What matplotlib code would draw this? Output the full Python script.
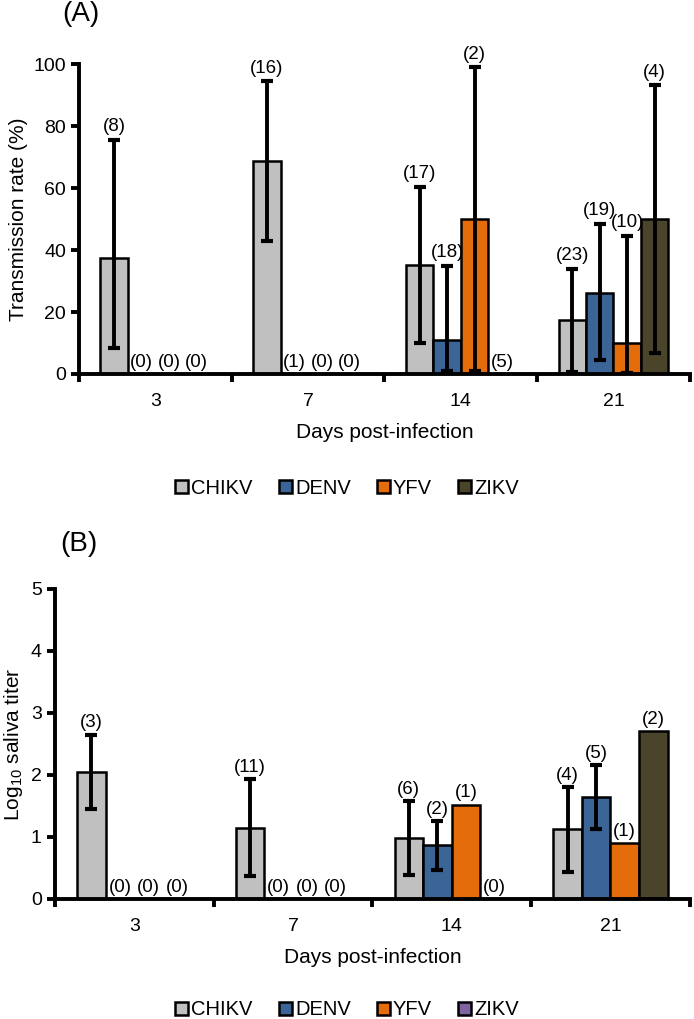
import matplotlib.pyplot as plt
from matplotlib.patches import Patch

plt.rcParams['font.family'] = ['Liberation Sans', 'DejaVu Sans']

# Data
days = ['3', '7', '14', '21']
viruses = ['CHIKV', 'DENV', 'YFV', 'ZIKV']
colors = ['#C0C0C0', '#3B6497', '#E46C0A', '#4A452A']

# Panel A: transmission rate (%)
rate = {
    'CHIKV': [37.5, 68.75, 35.3, 17.4],
    'DENV': [0, 0, 11.1, 26.3],
    'YFV': [0, 0, 50.0, 10.0],
    'ZIKV': [0, 0, 0, 50.0],
}
rate_lo = {
    'CHIKV': [8.5, 43.0, 10.0, 0.5],
    'DENV': [None, None, 1.0, 4.5],
    'YFV': [None, None, 1.0, 0.3],
    'ZIKV': [None, None, None, 6.8],
}
rate_hi = {
    'CHIKV': [75.5, 94.5, 60.5, 34.0],
    'DENV': [None, None, 35.0, 48.5],
    'YFV': [None, None, 99.0, 44.5],
    'ZIKV': [None, None, None, 93.2],
}
n_a = {
    'CHIKV': [8, 16, 17, 23],
    'DENV': [0, 1, 18, 19],
    'YFV': [0, 0, 2, 10],
    'ZIKV': [0, 0, 5, 4],
}

# Panel B: log10 saliva titer
titer = {
    'CHIKV': [2.05, 1.15, 0.98, 1.12],
    'DENV': [0, 0, 0.86, 1.64],
    'YFV': [0, 0, 1.52, 0.90],
    'ZIKV': [0, 0, 0, 2.70],
}
titer_lo = {
    'CHIKV': [1.45, 0.37, 0.38, 0.43],
    'DENV': [None, None, 0.47, 1.12],
    'YFV': [None, None, None, None],
    'ZIKV': [None, None, None, None],
}
titer_hi = {
    'CHIKV': [2.65, 1.93, 1.58, 1.80],
    'DENV': [None, None, 1.25, 2.16],
    'YFV': [None, None, None, None],
    'ZIKV': [None, None, None, None],
}
n_b = {
    'CHIKV': [3, 11, 6, 4],
    'DENV': [0, 0, 2, 5],
    'YFV': [0, 0, 1, 1],
    'ZIKV': [0, 0, 0, 2],
}

fig = plt.figure(figsize=(6.94, 10.19), dpi=100)
width = 0.18


def draw_panel(ax, vals, lo, hi, counts, ymax, yticks, label_pad, zero_y):
    for j, v in enumerate(viruses):
        xs = [i + (j - 1.5) * width for i in range(len(days))]
        ax.bar(xs, vals[v], width=width, color=colors[j], edgecolor='black',
               linewidth=1.8, zorder=2)
        for i, x in enumerate(xs):
            top = vals[v][i]
            if lo[v][i] is not None:
                ax.errorbar(x, vals[v][i],
                            yerr=[[vals[v][i] - lo[v][i]], [hi[v][i] - vals[v][i]]],
                            fmt='none', ecolor='black', elinewidth=2.8,
                            capsize=4.5, capthick=3, zorder=3)
                top = hi[v][i]
            if vals[v][i] == 0:
                ax.text(x, zero_y, f'({counts[v][i]})', ha='center', va='bottom',
                        fontsize=13.5)
            else:
                ax.text(x, top + label_pad, f'({counts[v][i]})', ha='center',
                        va='bottom', fontsize=13.5, clip_on=False)
    ax.set_xlim(-0.5, len(days) - 0.5)
    ax.set_ylim(0, ymax)
    ax.set_yticks(yticks)
    ax.set_xticks(range(len(days)))
    ax.set_xticklabels(days)
    ax.set_xticks([i - 0.5 for i in range(len(days) + 1)], minor=True)
    ax.tick_params(axis='x', which='major', length=0, labelsize=14, pad=14)
    ax.tick_params(axis='x', which='minor', length=6, width=2.8, direction='out')
    ax.tick_params(axis='y', length=6, width=2.8, labelsize=14, direction='out')
    for s in ['top', 'right']:
        ax.spines[s].set_visible(False)
    for s in ['left', 'bottom']:
        ax.spines[s].set_linewidth(2.8)
    ax.set_xlabel('Days post-infection', fontsize=15, labelpad=9)


# Panel A
ax1 = fig.add_axes([0.114, 0.633, 0.880, 0.304])
draw_panel(ax1, rate, rate_lo, rate_hi, n_a, 100, [0, 20, 40, 60, 80, 100], 1.5, 0.8)
ax1.set_ylabel('Transmission rate (%)', fontsize=15, labelpad=4)
fig.text(0.089, 0.986, '(A)', fontsize=20, va='center')

handles_a = [Patch(facecolor=c, edgecolor='black', linewidth=1.8, label=v)
             for v, c in zip(viruses, colors)]
fig.legend(handles=handles_a, loc='center', bbox_to_anchor=(0.5, 0.521), ncol=4,
           frameon=False, fontsize=14.5, handlelength=0.65, handleheight=0.65,
           handletextpad=0.15, columnspacing=1.3)

# Panel B
ax2 = fig.add_axes([0.079, 0.118, 0.915, 0.304])
draw_panel(ax2, titer, titer_lo, titer_hi, n_b, 5, [0, 1, 2, 3, 4, 5], 0.05, 0.04)
ax2.set_ylabel('Log$_{\\mathregular{10}}$ saliva titer', fontsize=15, labelpad=4)
fig.text(0.087, 0.466, '(B)', fontsize=20, va='center')

legend_b_colors = ['#C0C0C0', '#3B6497', '#E46C0A', '#8064A2']
handles_b = [Patch(facecolor=c, edgecolor='black', linewidth=1.8, label=v)
             for v, c in zip(viruses, legend_b_colors)]
fig.legend(handles=handles_b, loc='center', bbox_to_anchor=(0.5, 0.009), ncol=4,
           frameon=False, fontsize=14.5, handlelength=0.65, handleheight=0.65,
           handletextpad=0.15, columnspacing=1.3)

fig.savefig('out.png', dpi=100)
